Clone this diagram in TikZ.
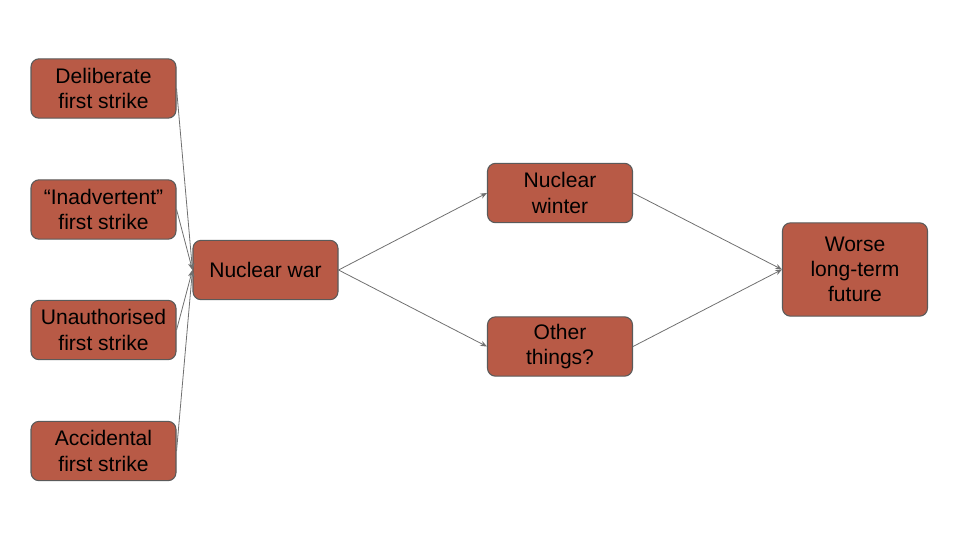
\documentclass[tikz,border=0pt]{standalone}
\usepackage{fontspec}
\setmainfont{Liberation Sans}
\usetikzlibrary{arrows.meta}
\definecolor{boxfill}{HTML}{B85A46}
\definecolor{boxdraw}{HTML}{5A5A5A}
\definecolor{linecol}{HTML}{707070}
\tikzset{
  box/.style={draw=boxdraw, line width=0.8pt, fill=boxfill, rounded corners=6pt,
    minimum width=108.75pt, minimum height=44.5pt, inner sep=0pt, align=center,
    font=\fontsize{15.8}{18.9}\selectfont, text=black},
  conn/.style={draw=linecol, line width=0.6pt, -{Stealth[length=5pt,width=4pt]}}
}
\begin{document}
\begin{tikzpicture}[x=0.75pt,y=-0.75pt]
\useasboundingbox (0,0) rectangle (960,540);
\node[box] (d) at (103.5,88.5) {Deliberate\\first strike};
\node[box] (i) at (103.5,209.5) {“Inadvertent”\\first strike};
\node[box] (u) at (103.5,330) {Unauthorised\\first strike};
\node[box] (a) at (103.5,451) {Accidental\\first strike};
\node[box] (w) at (265.5,270) {Nuclear war};
\node[box] (nw) at (560,193) {Nuclear\\winter};
\node[box] (o) at (560,346.5) {Other\\things?};
\node[box, minimum height=70pt] (f) at (855,269.5) {Worse\\long-term\\future};
\draw[conn] (d.east) -- (w.west);
\draw[conn] (i.east) -- (w.west);
\draw[conn] (u.east) -- (w.west);
\draw[conn] (a.east) -- (w.west);
\draw[conn] (w.east) -- (nw.west);
\draw[conn] (w.east) -- (o.west);
\draw[conn] (nw.east) -- (f.west);
\draw[conn] (o.east) -- (f.west);
\end{tikzpicture}
\end{document}
